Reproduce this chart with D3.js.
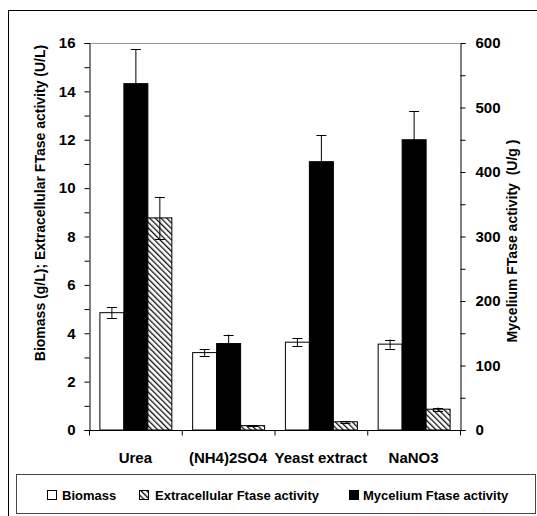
<!DOCTYPE html>
<html>
<head>
<meta charset="utf-8">
<script src="https://cdn.jsdelivr.net/npm/d3@7"></script>
<style>
  html, body { margin: 0; padding: 0; background: #fff; }
  svg { display: block; font-family: "Liberation Sans", Arial, sans-serif; font-weight: bold; }
</style>
</head>
<body>
<div id="viz"></div>
<script>
// values
const categories = ['Urea', '(NH4)2SO4', 'Yeast extract', 'NaNO3'];
const biomass = [4.85, 3.2, 3.63, 3.55];          // g/L, left axis
const biomassErr = [0.23, 0.14, 0.17, 0.19];
const mycelium = [537, 134, 416, 450];            // U/g, right axis
const myceliumErr = [53, 14, 41, 44];
const extracellular = [8.77, 0.18, 0.34, 0.86];   // U/L, left axis
const extracellularErr = [0.87, 0.01, 0.03, 0.07];
const leftTicks = [0, 2, 4, 6, 8, 10, 12, 14, 16];
const rightTicks = [0, 100, 200, 300, 400, 500, 600];

const width = 537, height = 516;
const plot = { left: 89, right: 460, top: 43, bottom: 430 };

const svg = d3.select('#viz').append('svg')
  .attr('width', width)
  .attr('height', height);

// hatch pattern for the extracellular bars
const defs = svg.append('defs');
const pat = defs.append('pattern')
  .attr('id', 'hatch')
  .attr('patternUnits', 'userSpaceOnUse')
  .attr('width', 4).attr('height', 4)
  .attr('patternTransform', 'rotate(-45)');
pat.append('rect').attr('width', 4).attr('height', 4).attr('fill', '#fff');
pat.append('rect').attr('x', 0).attr('y', 0).attr('width', 1.3).attr('height', 4).attr('fill', '#111');

// outer frame
svg.append('rect')
  .attr('x', 8.5).attr('y', 10.5)
  .attr('width', 540).attr('height', 520)
  .attr('fill', 'none').attr('stroke', '#000').attr('stroke-width', 1);

const yL = d3.scaleLinear().domain([0, 16]).range([plot.bottom, plot.top]);
const yR = d3.scaleLinear().domain([0, 600]).range([plot.bottom, plot.top]);
const x = d3.scaleBand().domain(categories).range([plot.left, plot.right]);
const series = ['biomass', 'mycelium', 'extracellular'];
const xs = d3.scaleBand().domain(series).range([10.4, x.bandwidth() - 10.4]);

// gray top border of the plot area
svg.append('line')
  .attr('x1', plot.left).attr('x2', plot.right)
  .attr('y1', plot.top + 0.5).attr('y2', plot.top + 0.5)
  .attr('stroke', '#999').attr('stroke-width', 1);

// bars
const rows = categories.map((c, i) => ({
  cat: c,
  bars: [
    { key: 'biomass', y: yL(biomass[i]), hi: yL(biomass[i] + biomassErr[i]), lo: yL(biomass[i] - biomassErr[i]), fill: '#fff' },
    { key: 'mycelium', y: yR(mycelium[i]), hi: yR(mycelium[i] + myceliumErr[i]), lo: yR(mycelium[i] - myceliumErr[i]), fill: '#000' },
    { key: 'extracellular', y: yL(extracellular[i]), hi: yL(extracellular[i] + extracellularErr[i]), lo: yL(extracellular[i] - extracellularErr[i]), fill: 'url(#hatch)' }
  ]
}));

const g = svg.selectAll('g.grp').data(rows).enter().append('g')
  .attr('class', 'grp')
  .attr('transform', d => `translate(${x(d.cat)},0)`);

g.selectAll('rect').data(d => d.bars).enter().append('rect')
  .attr('x', d => xs(d.key) + 0.5)
  .attr('y', d => d.y)
  .attr('width', xs.bandwidth())
  .attr('height', d => plot.bottom - d.y)
  .attr('fill', d => d.fill)
  .attr('stroke', '#000')
  .attr('stroke-width', 1);

// error bars
const eb = g.selectAll('g.err').data(d => d.bars).enter().append('g').attr('class', 'err')
  .attr('transform', d => `translate(${xs(d.key) + xs.bandwidth() / 2 + 0.5},0)`);
eb.append('line').attr('x1', 0).attr('x2', 0)
  .attr('y1', d => d.hi).attr('y2', d => d.lo)
  .attr('stroke', '#000').attr('stroke-width', 1);
eb.selectAll('line.cap').data(d => [d.hi, d.lo]).enter().append('line')
  .attr('class', 'cap')
  .attr('x1', -5).attr('x2', 5)
  .attr('y1', d => Math.round(d) + 0.5).attr('y2', d => Math.round(d) + 0.5)
  .attr('stroke', '#000').attr('stroke-width', 1);

// left axis
const minorL = d3.range(0, 16.01, 1);
const leftAxis = d3.axisLeft(yL).tickValues(minorL).tickSize(5)
  .tickFormat(d => leftTicks.includes(d) ? d : '');
const gl = svg.append('g').attr('transform', `translate(${plot.left + 0.5},0)`).call(leftAxis);
gl.select('.domain').attr('stroke', '#000');
gl.selectAll('text').attr('font-size', 15).attr('font-weight', 'bold').attr('fill', '#000')
  .attr('x', -14);

// right axis
const minorR = d3.range(0, 600.01, 50);
const rightAxis = d3.axisRight(yR).tickValues(minorR).tickSize(5)
  .tickFormat(d => rightTicks.includes(d) ? d : '');
const gr = svg.append('g').attr('transform', `translate(${plot.right + 0.5},0)`).call(rightAxis);
gr.selectAll('text').attr('font-size', 15).attr('font-weight', 'bold').attr('fill', '#000')
  .attr('x', 15);

// bottom axis: ticks at group boundaries
const gb = svg.append('g').attr('transform', `translate(0,${plot.bottom + 0.5})`);
gb.append('line').attr('x1', plot.left).attr('x2', plot.right + 1).attr('stroke', '#000');
const bounds = categories.map(c => x(c)).concat([plot.right]);
gb.selectAll('line.tk').data(bounds).enter().append('line')
  .attr('class', 'tk')
  .attr('x1', d => d + 0.5).attr('x2', d => d + 0.5)
  .attr('y1', 0).attr('y2', 5)
  .attr('stroke', '#000');
gb.selectAll('text').data(categories).enter().append('text')
  .attr('x', d => x(d) + x.bandwidth() / 2)
  .attr('y', 32)
  .attr('text-anchor', 'middle')
  .attr('font-size', 15)
  .text(d => d);

// axis titles
svg.append('text')
  .attr('transform', 'translate(45,203) rotate(-90)')
  .attr('text-anchor', 'middle')
  .attr('font-size', 14)
  .text('Biomass (g/L); Extracellular FTase activity (U/L)');
svg.append('text')
  .attr('transform', 'translate(517,241) rotate(-90)')
  .attr('text-anchor', 'middle')
  .attr('font-size', 14)
  .style('white-space', 'pre')
  .text('Mycelium FTase activity  (U/g )');

// legend
svg.append('rect')
  .attr('x', 16.5).attr('y', 474.5)
  .attr('width', 519).attr('height', 39)
  .attr('fill', 'none').attr('stroke', '#444').attr('stroke-width', 1);
const legendItems = [
  { label: 'Biomass', fill: '#fff', sx: 47, tx: 62 },
  { label: 'Extracellular Ftase activity', fill: 'url(#hatch)', sx: 139, tx: 155 },
  { label: 'Mycelium Ftase activity', fill: '#000', sx: 349, tx: 363 }
];
const lg = svg.selectAll('g.leg').data(legendItems).enter().append('g').attr('class', 'leg');
lg.append('rect')
  .attr('x', d => d.sx + 0.5).attr('y', 490.5)
  .attr('width', 9).attr('height', 9)
  .attr('fill', d => d.fill).attr('stroke', '#000');
lg.append('text')
  .attr('x', d => d.tx).attr('y', 499.5)
  .attr('font-size', 13)
  .text(d => d.label);
</script>
</body>
</html>
